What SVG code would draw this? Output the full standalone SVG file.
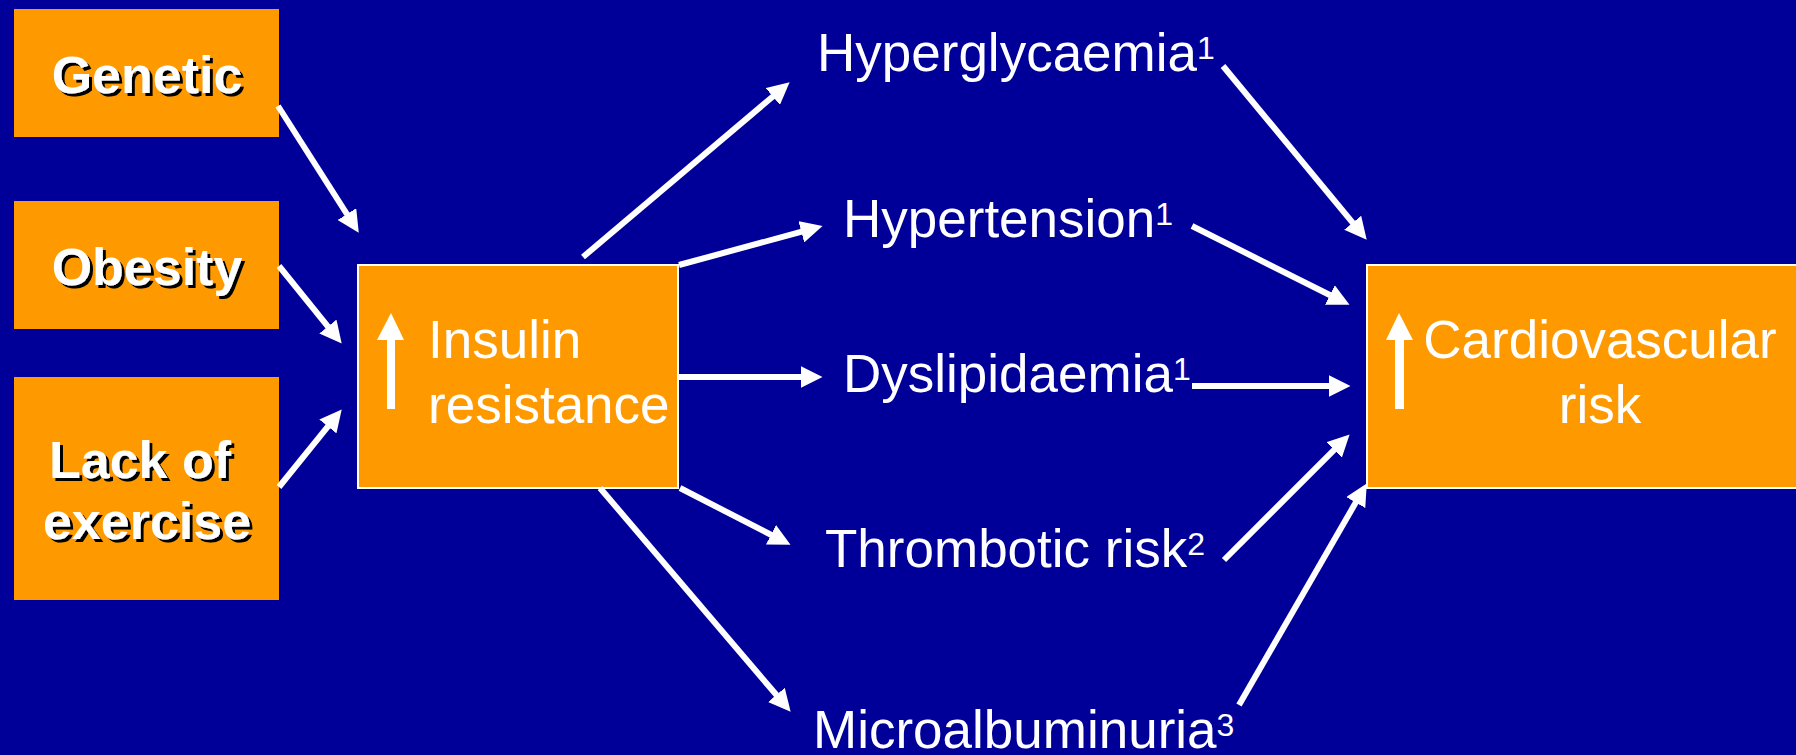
<svg xmlns="http://www.w3.org/2000/svg" width="1796" height="755" viewBox="0 0 1796 755">
<style>
.bg{fill:#000099}
.box{fill:#FF9900}
.boxb{fill:#FF9900;stroke:#ffffff;stroke-width:2}
.bold{font-family:"Liberation Sans",Arial,sans-serif;font-weight:bold;font-size:52px;fill:#ffffff}
.lbl{font-family:"Liberation Sans",Arial,sans-serif;font-size:53px;fill:#ffffff}
.sup{font-size:32px}
.conn line{stroke:#ffffff;stroke-width:6;marker-end:url(#ah)}
.up{fill:#ffffff}
</style>
<defs>
<marker id="ah" markerUnits="userSpaceOnUse" viewBox="0 0 22 22" refX="0.5" refY="11" markerWidth="22" markerHeight="22" orient="auto">
<path d="M0,0 L22,11 L0,22 z" fill="#ffffff"/>
</marker>
<filter id="sh" x="-10%" y="-10%" width="120%" height="130%">
<feFlood flood-color="#000000" result="f"/>
<feComposite in="f" in2="SourceAlpha" operator="in" result="s"/>
<feOffset in="s" dx="2.5" dy="2.5" result="o"/>
<feMerge><feMergeNode in="o"/><feMergeNode in="SourceGraphic"/></feMerge>
</filter>
</defs>
<rect class="bg" x="0" y="0" width="1796" height="755"/>

<g id="genetic">
<rect class="box" x="14" y="9" width="265" height="128"/>
<text class="bold" x="147" y="93" text-anchor="middle" filter="url(#sh)">Genetic</text>
</g>
<g id="obesity">
<rect class="box" x="14" y="201" width="265" height="128"/>
<text class="bold" x="147" y="285" text-anchor="middle" filter="url(#sh)">Obesity</text>
</g>
<g id="lack-of-exercise">
<rect class="box" x="14" y="377" width="265" height="223"/>
<text class="bold" filter="url(#sh)"><tspan x="49" y="478">Lack of</tspan><tspan x="147" y="539" text-anchor="middle">exercise</tspan></text>
</g>
<g id="insulin-resistance">
<rect class="boxb" x="358" y="265" width="320" height="223"/>
<path class="up" d="M391,313 L404,340 L395,340 L395,409 L387,409 L387,340 L377,340 z"/>
<text class="lbl"><tspan x="428" y="358">Insulin</tspan><tspan x="428" y="423">resistance</tspan></text>
</g>
<g id="cardiovascular-risk">
<rect class="boxb" x="1367" y="265" width="440" height="223"/>
<path class="up" d="M1399,313 L1413,340 L1404,340 L1404,409 L1395,409 L1395,340 L1386,340 z"/>
<text class="lbl" text-anchor="middle"><tspan x="1600" y="358">Cardiovascular</tspan><tspan x="1600" y="423">risk</tspan></text>
</g>
<g id="hyperglycaemia">
<text class="lbl" x="817" y="71">Hyperglycaemia<tspan class="sup" dy="-12">1</tspan></text>
</g>
<g id="hypertension">
<text class="lbl" x="843" y="237">Hypertension<tspan class="sup" dy="-12">1</tspan></text>
</g>
<g id="dyslipidaemia">
<text class="lbl" x="843" y="392">Dyslipidaemia<tspan class="sup" dy="-12">1</tspan></text>
</g>
<g id="thrombotic-risk">
<text class="lbl" x="825" y="567">Thrombotic risk<tspan class="sup" dy="-12">2</tspan></text>
</g>
<g id="microalbuminuria">
<text class="lbl" x="813" y="748">Microalbuminuria<tspan class="sup" dy="-12">3</tspan></text>
</g>

<g id="connectors" class="conn">
<line x1="278" y1="106" x2="347.2" y2="214.5"/>
<line x1="279" y1="266" x2="328.2" y2="326.9"/>
<line x1="279" y1="487" x2="328.2" y2="426.1"/>
<line x1="583" y1="257" x2="773.2" y2="96.2"/>
<line x1="679" y1="265" x2="801.8" y2="231.7"/>
<line x1="679" y1="377" x2="801" y2="377"/>
<line x1="680" y1="488" x2="771.4" y2="535"/>
<line x1="600" y1="488" x2="776.7" y2="695.3"/>
<line x1="1223" y1="66" x2="1353" y2="223.1"/>
<line x1="1192" y1="226" x2="1330.3" y2="295.2"/>
<line x1="1192" y1="386" x2="1329" y2="386"/>
<line x1="1224" y1="560" x2="1334.4" y2="449.6"/>
<line x1="1239" y1="705" x2="1356" y2="502.1"/>
</g>
</svg>
